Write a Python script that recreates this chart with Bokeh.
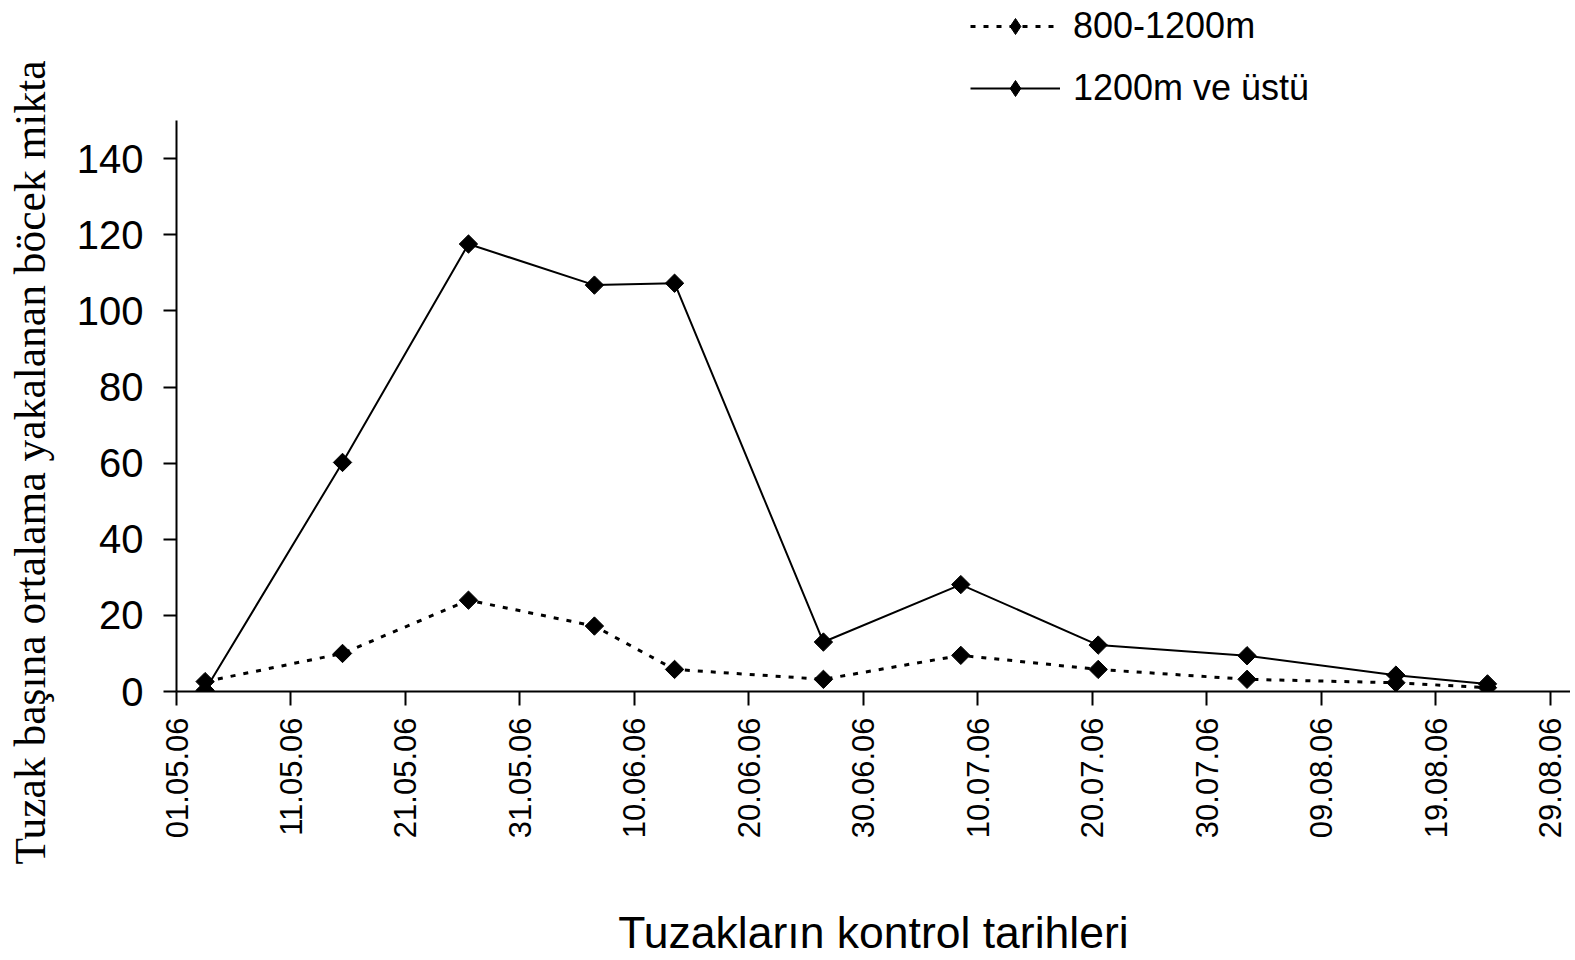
import datetime as dt
from math import pi

from bokeh.plotting import figure
from bokeh.models import Legend, LegendItem, Title, FixedTicker, Range1d
from bokeh.embed import file_html
from bokeh.resources import INLINE

# ---------------- data ----------------
start_date = "01.05.06"
tick_labels = ["01.05.06", "11.05.06", "21.05.06", "31.05.06", "10.06.06", "20.06.06",
               "30.06.06", "10.07.06", "20.07.06", "30.07.06", "09.08.06", "19.08.06",
               "29.08.06"]
control_dates = ["03.05.06", "15.05.06", "26.05.06", "06.06.06", "13.06.06", "26.06.06",
                 "08.07.06", "20.07.06", "02.08.06", "15.08.06", "23.08.06"]
alt_800_1200 = [2.6, 10.0, 24.0, 17.2, 5.8, 3.2, 9.5, 5.8, 3.2, 2.3, 1.0]
alt_1200_up = [0.3, 60.2, 117.6, 106.8, 107.3, 13.0, 28.1, 12.2, 9.4, 4.3, 2.0]
y_ticks = [0, 20, 40, 60, 80, 100, 120, 140]
y_axis_max = 150

name_low = "800-1200m"
name_high = "1200m ve üstü"
y_title = "Tuzak başına ortalama yakalanan böcek  mikta"
x_title = "Tuzakların kontrol tarihleri"

base = dt.datetime.strptime(start_date, "%d.%m.%y")


def day_of(s):
    return (dt.datetime.strptime(s, "%d.%m.%y") - base).days


# points are placed at the middle of their day (date axis convention)
xs = [day_of(d) + 0.5 for d in control_dates]
tick_pos = [day_of(t) for t in tick_labels]

# ---------------- figure ----------------
# the frame reaches the top of the canvas so that the legend sits inside it;
# the y axis itself is bounded to 0..150
p = figure(width=1570, height=960, title=None,
           x_range=Range1d(0, 121.75), y_range=Range1d(0, 181.6),
           output_backend="svg", toolbar_location=None,
           min_border_left=176, min_border_right=0,
           min_border_top=0, min_border_bottom=268)
p.outline_line_color = None
p.xgrid.visible = False
p.ygrid.visible = False
p.background_fill_color = "white"
p.border_fill_color = "white"

FONT = "Liberation Sans"

# x axis
xa = p.xaxis[0]
xa.ticker = FixedTicker(ticks=tick_pos)
xa.major_label_overrides = {t: l for t, l in zip(tick_pos, tick_labels)}
xa.major_label_orientation = pi / 2
xa.major_label_text_font = FONT
xa.major_label_text_font_size = "31px"
xa.major_label_text_color = "black"
xa.major_label_standoff = 12
xa.major_tick_out = 14
xa.major_tick_in = 0
xa.minor_tick_out = 0
xa.minor_tick_in = 0
xa.axis_line_width = 2
xa.major_tick_line_width = 2
xa.axis_line_color = "black"
xa.major_tick_line_color = "black"
xa.axis_label = x_title
xa.axis_label_text_font = FONT
xa.axis_label_text_font_size = "44.5px"
xa.axis_label_text_font_style = "normal"
xa.axis_label_text_color = "black"
xa.axis_label_standoff = 67

# y axis
ya = p.yaxis[0]
ya.ticker = FixedTicker(ticks=y_ticks)
ya.bounds = (0, y_axis_max)
ya.major_label_text_font = FONT
ya.major_label_text_font_size = "40px"
ya.major_label_text_color = "black"
ya.major_label_standoff = 20
ya.major_tick_out = 13
ya.major_tick_in = 0
ya.minor_tick_out = 0
ya.minor_tick_in = 0
ya.axis_line_width = 2
ya.major_tick_line_width = 2
ya.axis_line_color = "black"
ya.major_tick_line_color = "black"
# blank spacer label: pushes the rotated title further out to the left
ya.axis_label = " "
ya.axis_label_text_font_size = "1px"
ya.axis_label_standoff = 15

# series
l_low = p.line(xs, alt_800_1200, line_color="black", line_width=3, line_dash="5 8")
s_low = p.scatter(xs, alt_800_1200, marker="square", angle=pi / 4, size=13,
                  fill_color="black", line_color="black")
l_high = p.line(xs, alt_1200_up, line_color="black", line_width=2)
s_high = p.scatter(xs, alt_1200_up, marker="square", angle=pi / 4, size=13,
                   fill_color="black", line_color="black")

# legend keys: diamond glyphs over the same data, hidden in the plot itself
k_low = p.scatter(xs, alt_800_1200, marker="diamond", fill_color="black",
                  line_color="black", visible=False)
k_high = p.scatter(xs, alt_1200_up, marker="diamond", fill_color="black",
                   line_color="black", visible=False)

legend = Legend(items=[LegendItem(label=name_low, renderers=[l_low, k_low]),
                       LegendItem(label=name_high, renderers=[l_high, k_high])],
                location=(794, 582), orientation="vertical",
                glyph_width=90, glyph_height=40, label_height=40, spacing=20,
                label_standoff=13, padding=0, margin=0,
                border_line_color=None, background_fill_alpha=0,
                label_text_font=FONT, label_text_font_size="36px",
                label_text_color="black")
p.add_layout(legend)

ytitle = Title(text=y_title, align="left", offset=-173, standoff=2,
               vertical_align="bottom",
               text_font="Liberation Serif", text_font_size="43.5px",
               text_font_style="normal", text_color="black")
p.add_layout(ytitle, "left")

open("out.html", "w").write(file_html(p, INLINE))
